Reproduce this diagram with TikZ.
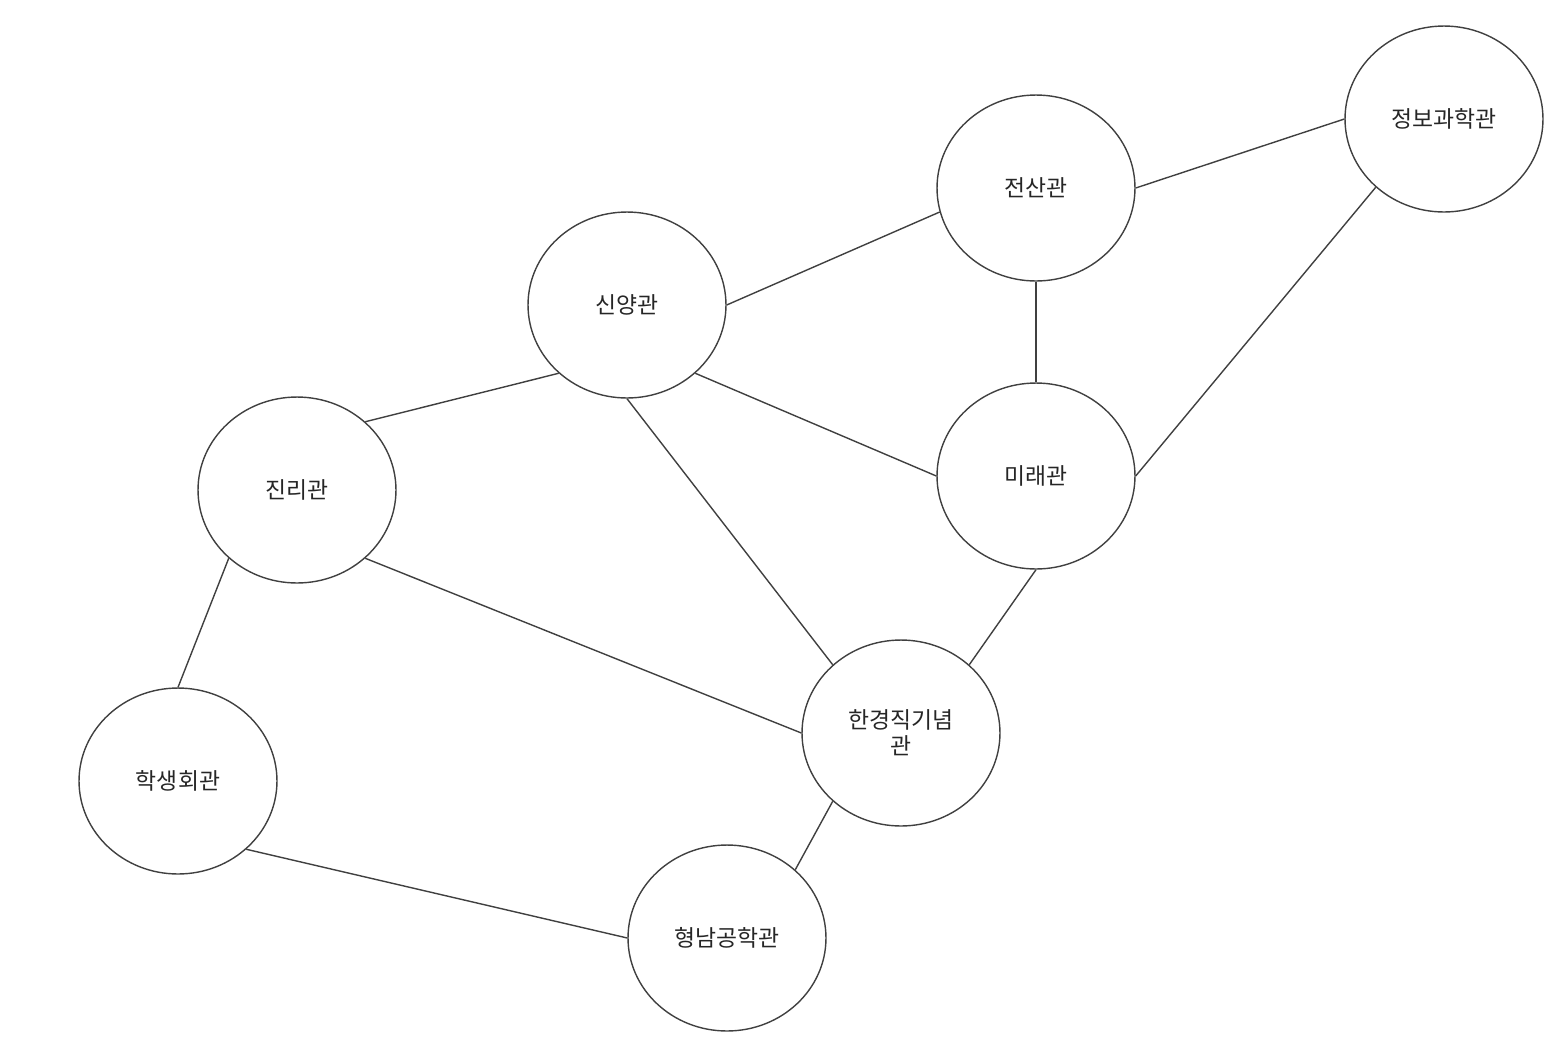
\documentclass[tikz,border=0pt]{standalone}
\usepackage{fontspec}
\newfontfamily\kr{Noto Sans CJK KR}
\usetikzlibrary{shapes.geometric}

\begin{document}
\begin{tikzpicture}[x=0.02cm, y=-0.02cm,
    building/.style={ellipse, draw=black!75, line width=0.8pt, inner sep=0pt,
      minimum width=3.96cm, minimum height=3.72cm, align=center,
      font=\kr\fontsize{13}{15}\selectfont, text=black!85},
    link/.style={draw=black!75, line width=0.8pt}]
      % Canvas
      \useasboundingbox (0,0) rectangle (1556,1056);

      % Buildings
      \node[building] (jeongbo) at (1444,119) {정보과학관};
      \node[building] (jeonsan) at (1036,188) {전산관};
      \node[building] (sinyang) at (627,305) {신양관};
      \node[building] (mirae) at (1036,476) {미래관};
      \node[building] (jinri) at (297,490) {진리관};
      \node[building] (hangyeongjik) at (901,733) {한경직기념\\관};
      \node[building] (haksaeng) at (178,781) {학생회관};
      \node[building] (hyeongnam) at (727,938) {형남공학관};

      % Paths
      \path[link] (jeongbo.west) -- (jeonsan.east);
      \path[link] (jeongbo.225) -- (mirae.east);
      \path[link] (jeonsan.194) -- (sinyang.east);
      \path[link] (jeonsan.south) -- (mirae.north);
      \path[link] (sinyang.225) -- (jinri.45);
      \path[link] (sinyang.315) -- (mirae.west);
      \path[link] (sinyang.south) -- (hangyeongjik.135);
      \path[link] (jinri.315) -- (hangyeongjik.west);
      \path[link] (jinri.225) -- (haksaeng.north);
      \path[link] (mirae.south) -- (hangyeongjik.45);
      \path[link] (hangyeongjik.225) -- (hyeongnam.45);
      \path[link] (haksaeng.315) -- (hyeongnam.west);

    \end{tikzpicture}
\end{document}
